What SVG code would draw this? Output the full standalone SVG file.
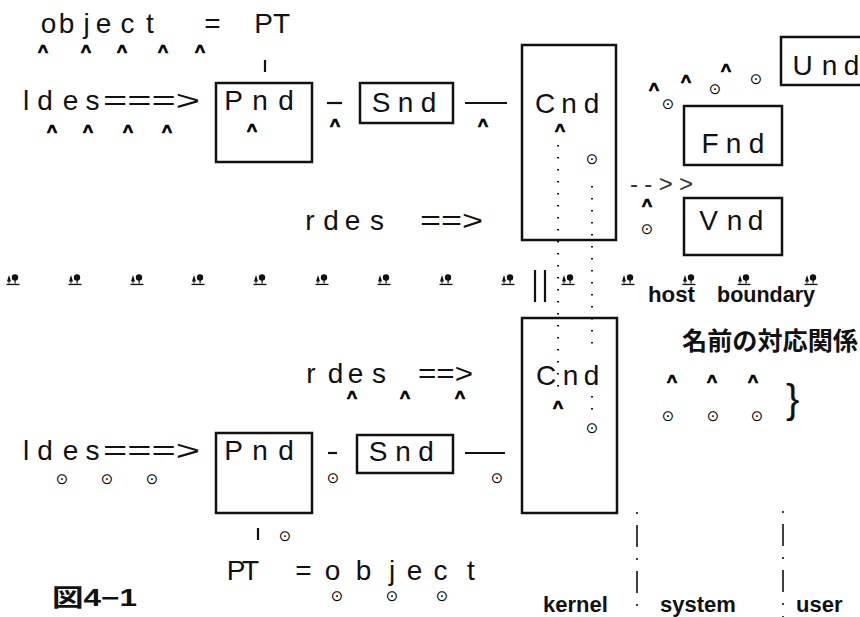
<svg xmlns="http://www.w3.org/2000/svg" xmlns:xlink="http://www.w3.org/1999/xlink" width="860" height="617" viewBox="0 0 860 617">
<style>
.t{font-family:"Liberation Sans",Arial,sans-serif;font-size:28px;fill:#111;text-anchor:middle}
.s{font-family:"Liberation Sans",Arial,sans-serif;font-size:28px;fill:#111}
.c{font-family:"Liberation Sans",Arial,sans-serif;font-size:18px;font-weight:bold;fill:#000;stroke:#000;stroke-width:0.7;text-anchor:middle}
.o{font-family:"DejaVu Sans",sans-serif;font-size:15px;fill:#000;text-anchor:middle}
.lb{font-family:"Liberation Sans",Arial,sans-serif;font-size:22px;font-weight:bold;fill:#111}
.jp{font-family:"Liberation Sans","Noto Sans CJK JP",sans-serif;font-weight:bold;fill:#111}
.box{fill:none;stroke:#111;stroke-width:2.5}
.ln{stroke:#111;stroke-width:2.2;fill:none}
.dot{stroke:#111;stroke-width:2;stroke-dasharray:1.6 10.4;fill:none}
.dd{stroke:#111;stroke-width:1.6;stroke-dasharray:2 11 22 11;fill:none}
</style>
<defs>
<g id="tree">
<path d="M-6,2.5 L-4,-4 L-2,2.5 Z" fill="#111"/>
<rect x="-4.5" y="2" width="1" height="2.5" fill="#111"/>
<circle cx="2" cy="-1.5" r="3.2" fill="#111"/>
<rect x="1.5" y="1" width="1.2" height="3.5" fill="#111"/>
<rect x="-6.5" y="4.8" width="13" height="1.3" fill="#111"/>
</g>
</defs>
<rect width="860" height="617" fill="#fff"/>

<g id="connectors">
<line class="ln" x1="265" y1="60" x2="265" y2="72"/>
<line class="ln" x1="327" y1="103" x2="342" y2="103"/>
<line class="ln" x1="465" y1="103" x2="507" y2="103"/>
<line class="ln" x1="328" y1="453" x2="337" y2="453"/>
<line class="ln" x1="465" y1="453" x2="505" y2="453"/>
<line class="ln" x1="258" y1="528" x2="258" y2="540"/>
<line class="dot" x1="558" y1="145" x2="558" y2="396"/>
<line class="dot" x1="592" y1="186" x2="592" y2="352"/>
<line class="dot" x1="592" y1="396" x2="592" y2="416"/>
<line class="ln" x1="535" y1="270" x2="535" y2="302" stroke-width="2"/>
<line class="ln" x1="545" y1="270" x2="545" y2="302" stroke-width="2"/>
<line class="dd" x1="637" y1="512" x2="637" y2="617"/>
<line class="dd" x1="783" y1="511" x2="783" y2="617"/>
</g>

<g id="node-pnd-top">
<rect class="box" x="216" y="83" width="96" height="79"/>
<text class="t" x="233.5 260 286" y="110">Pnd</text>
</g>
<g id="node-snd-top">
<rect class="box" x="360" y="83" width="93" height="40"/>
<text class="t" x="381 405.5 428.5" y="112">Snd</text>
</g>
<g id="node-cnd-top">
<rect class="box" x="522" y="45" width="94" height="195"/>
<text class="t" x="545 569 591.5" y="113">Cnd</text>
</g>
<g id="node-und">
<rect class="box" x="781" y="37" width="90" height="48"/>
<text class="t" x="802.5 829.5 851.5" y="75">Und</text>
</g>
<g id="node-fnd">
<rect class="box" x="684" y="106" width="98" height="59"/>
<text class="t" x="710 733.5 756.5" y="153">Fnd</text>
</g>
<g id="node-vnd">
<rect class="box" x="684" y="198" width="98" height="57"/>
<text class="t" x="708.5 734.5 755.5" y="230">Vnd</text>
</g>
<g id="node-cnd-bottom">
<rect class="box" x="522" y="318" width="95" height="195"/>
<text class="t" x="546 570.5 591.5" y="385">Cnd</text>
</g>
<g id="node-pnd-bottom">
<rect class="box" x="216" y="433" width="96" height="80"/>
<text class="t" x="233.5 260 286" y="460">Pnd</text>
</g>
<g id="node-snd-bottom">
<rect class="box" x="357" y="435" width="96" height="38"/>
<text class="t" x="378 403 426" y="461">Snd</text>
</g>

<g id="labels">
<text class="t" x="48.5 66.5 86.5 103.5 127.5 150 170 212.5 240 263.5 281.5" y="33">object = PT</text>
<text class="t" x="26 45 70.5 92.5" y="110">ldes</text>
<text class="s" x="103" y="110" textLength="97" lengthAdjust="spacingAndGlyphs">===&gt;</text>
<text class="t" x="310 331 352.5 377" y="230">rdes</text>
<text class="s" x="420" y="230" textLength="63" lengthAdjust="spacingAndGlyphs">==&gt;</text>
<text class="s" x="630" y="192" textLength="63" lengthAdjust="spacing" style="font-size:24px;fill:#333">--&gt;&gt;</text>
<text class="t" x="311 335.5 355.5 379" y="383">rdes</text>
<text class="s" x="418" y="383" textLength="55" lengthAdjust="spacingAndGlyphs">==&gt;</text>
<text class="t" x="26 45 70.5 92.5" y="460">ldes</text>
<text class="s" x="103" y="460" textLength="97" lengthAdjust="spacingAndGlyphs">===&gt;</text>
<text class="t" x="236 250.5 270 303.5 318 332.5 363.5 392 414.5 440.5 471" y="580">PT = object</text>
<text class="lb" x="648" y="302" textLength="47" lengthAdjust="spacingAndGlyphs">host</text>
<text class="lb" x="717" y="302" textLength="98" lengthAdjust="spacingAndGlyphs">boundary</text>
<text class="jp" x="682" y="350" style="font-size:25px" textLength="176" lengthAdjust="spacingAndGlyphs">名前の対応関係</text>
<text class="s" x="786" y="413" style="font-size:40px">}</text>
<text class="jp" x="52" y="606" style="font-size:24px" textLength="85" lengthAdjust="spacingAndGlyphs">図4−1</text>
<text class="lb" x="543" y="612">kernel</text>
<text class="lb" x="660" y="612">system</text>
<text class="lb" x="796" y="612">user</text>
</g>

<g id="carets">
<text class="c" x="43 86 122 163 200" y="58">^^^^^</text>
<text class="c" x="52 88 128 167" y="138">^^^^</text>
<text class="c" x="252" y="137">^</text>
<text class="c" x="335" y="132">^</text>
<text class="c" x="483" y="132">^</text>
<text class="c" x="560" y="137">^</text>
<text class="c" x="654" y="96">^</text>
<text class="c" x="686" y="88">^</text>
<text class="c" x="726" y="77">^</text>
<text class="c" x="647" y="212">^</text>
<text class="c" x="352 405 460" y="404">^^^</text>
<text class="c" x="558" y="414">^</text>
<text class="c" x="672 712 753" y="388">^^^</text>
</g>

<g id="circles">
<text class="o" x="592" y="163.5">⊙</text>
<text class="o" x="668" y="108.5">⊙</text>
<text class="o" x="715" y="93.5">⊙</text>
<text class="o" x="756" y="83.5">⊙</text>
<text class="o" x="647" y="233.5">⊙</text>
<text class="o" x="592" y="432.5">⊙</text>
<text class="o" x="668 713 757" y="420.5">⊙⊙⊙</text>
<text class="o" x="62 107 152" y="483.5">⊙⊙⊙</text>
<text class="o" x="333" y="482.5">⊙</text>
<text class="o" x="497" y="482.5">⊙</text>
<text class="o" x="285" y="540.5">⊙</text>
<text class="o" x="337 392 442" y="600.5">⊙⊙⊙</text>
</g>

<g id="boundary-marks">
<use xlink:href="#tree" x="13" y="279"/>
<use xlink:href="#tree" x="75" y="279"/>
<use xlink:href="#tree" x="137" y="279"/>
<use xlink:href="#tree" x="198" y="279"/>
<use xlink:href="#tree" x="260" y="279"/>
<use xlink:href="#tree" x="322" y="279"/>
<use xlink:href="#tree" x="384" y="279"/>
<use xlink:href="#tree" x="446" y="279"/>
<use xlink:href="#tree" x="508" y="279"/>
<use xlink:href="#tree" x="568" y="279"/>
<use xlink:href="#tree" x="628" y="279"/>
<use xlink:href="#tree" x="689" y="279"/>
<use xlink:href="#tree" x="744" y="279"/>
<use xlink:href="#tree" x="811" y="279"/>
</g>
</svg>
